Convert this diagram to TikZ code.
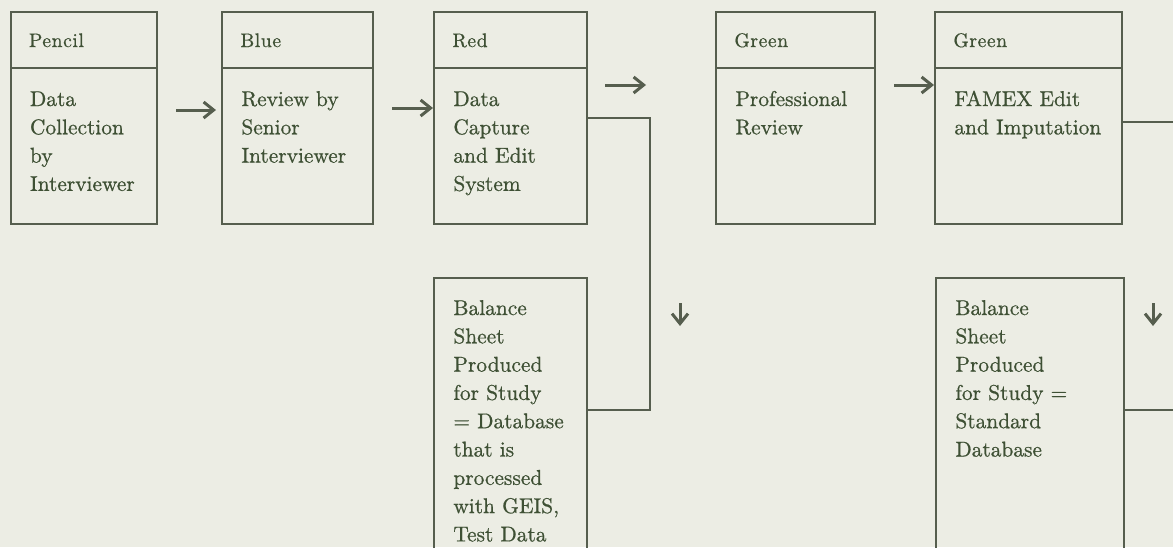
\documentclass[tikz,border=0pt]{standalone}
\usepackage{fontspec}
\newfontfamily\scanfont{Latin Modern Roman}[FakeBold=0.7]
\newfontfamily\scanhead{Latin Modern Roman}[FakeBold=0.6, LetterSpace=3]
\usetikzlibrary{calc,arrows.meta}
\definecolor{bg}{RGB}{236,237,228}
\definecolor{ln}{RGB}{86,94,78}
\definecolor{tx}{RGB}{62,80,52}
\begin{document}
\begin{tikzpicture}[x=0.5pt,y=-0.5pt,
  box/.style={draw=ln, line width=1pt, anchor=north west, inner sep=0pt},
  hdtext/.style={anchor=base west, inner sep=0pt, text=tx, font=\scanhead\fontsize{9.8}{11}\selectfont},
  bdtext/.style={anchor=base west, inner sep=0pt, text=tx, text width=110pt, align=left, font=\scanfont\fontsize{10.7}{14.15}\selectfont},
  arr/.style={draw=ln, line width=1.5pt, -{Straight Barb[length=5pt,width=8pt]}},
  conn/.style={draw=ln, line width=1pt}]
\useasboundingbox (0,0) rectangle (1173,547);
\fill[bg] (0,0) rectangle (1173,547);
\clip (0,0) rectangle (1173,547);
% top row
\node[box, minimum width=73.2pt, minimum height=28pt] (h1) at (9.6,11) {};
\node[box, minimum width=73.2pt, minimum height=78pt] (b1) at (9.6,67) {};
\node[box, minimum width=75.5pt, minimum height=28pt] (h2) at (221,11) {};
\node[box, minimum width=75.5pt, minimum height=78pt] (b2) at (221,67) {};
\node[box, minimum width=76.25pt, minimum height=28pt] (h3) at (433,11) {};
\node[box, minimum width=76.25pt, minimum height=78pt] (b3) at (433,67) {};
\node[box, minimum width=79.5pt, minimum height=28pt] (h4) at (715,11) {};
\node[box, minimum width=79.5pt, minimum height=78pt] (b4) at (715,67) {};
\node[box, minimum width=93.5pt, minimum height=28pt] (h5) at (934,11) {};
\node[box, minimum width=93.5pt, minimum height=78pt] (b5) at (934,67) {};
% bottom row
\node[box, minimum width=76.5pt, minimum height=150pt] (bal1) at (433,277) {};
\node[box, minimum width=94pt, minimum height=150pt] (bal2) at (935,277) {};
% texts
\node[hdtext] (t1h) at ($(h1.north west)+(19,36)$) {Pencil};
\node[hdtext] (t2h) at ($(h2.north west)+(19,36)$) {Blue};
\node[hdtext] (t3h) at ($(h3.north west)+(19,36)$) {Red};
\node[hdtext] (t4h) at ($(h4.north west)+(19,36)$) {Green};
\node[hdtext] (t5h) at ($(h5.north west)+(19,36)$) {Green};
\node[bdtext] (t1b) at ($(b1.north west)+(20,39)$) {Data\\Collection\\by\\Interviewer};
\node[bdtext] (t2b) at ($(b2.north west)+(20,39)$) {Review by\\Senior\\Interviewer};
\node[bdtext] (t3b) at ($(b3.north west)+(20,39)$) {Data\\Capture\\and Edit\\System};
\node[bdtext] (t4b) at ($(b4.north west)+(20,39)$) {Professional\\Review};
\node[bdtext] (t5b) at ($(b5.north west)+(20,39)$) {FAMEX Edit\\and Imputation};
\node[bdtext] (tb1) at ($(bal1.north west)+(20,38)$) {Balance\\Sheet\\Produced\\for Study\\= Database\\that is\\processed\\with GEIS,\\Test Data};
\node[bdtext] (tb2) at ($(bal2.north west)+(20,38)$) {Balance\\Sheet\\Produced\\for Study =\\Standard\\Database};
% arrows
\draw[arr] ($(b1.north east)+(18,43)$) -- ($(b2.north west)+(-5,43)$);
\draw[arr] ($(b2.north east)+(18,41)$) -- ($(b3.north west)+(0,41)$);
\draw[arr] ($(b3.north east)+(17.5,18)$) -- ($(b4.north west)+(-69,18)$);
\draw[arr] ($(b4.north east)+(18,18)$) -- ($(b5.north west)+(0,18)$);
% connectors
\draw[conn] ($(b3.north east)+(0,51)$) -| ($(bal1.north east)+(62,133)$) -- ($(bal1.north east)+(0,133)$);
\coordinate (e1) at (1175,122);
\coordinate (e2) at (1175,410);
\draw[conn] ($(b5.north east)+(0,55)$) -- (e1);
\draw[conn] ($(bal2.north east)+(0,133)$) -- (e2);
% down arrows
\coordinate (d1s) at (680,303);
\coordinate (d1e) at (680,326);
\coordinate (d2s) at (1153,303);
\coordinate (d2e) at (1153,326);
\draw[arr] (d1s) -- (d1e);
\draw[arr] (d2s) -- (d2e);
\end{tikzpicture}
\end{document}
